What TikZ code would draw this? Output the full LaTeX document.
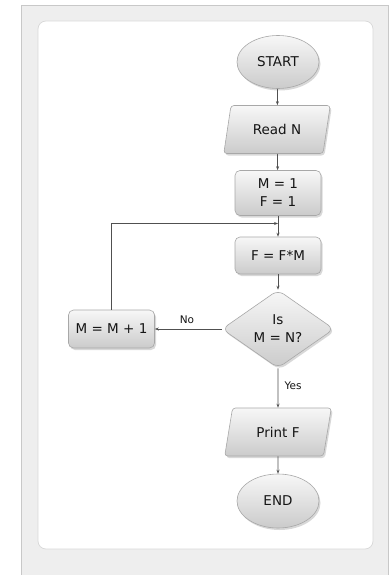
\documentclass[tikz,border=0pt]{standalone}
\usepackage{fontspec}
\setmainfont{DejaVu Sans}
\usetikzlibrary{shapes.geometric,arrows.meta,shadows}

\definecolor{panelgray}{HTML}{EEEEEE}
\definecolor{panelline}{HTML}{C8C8C8}
\definecolor{cardline}{HTML}{D8D8D8}
\definecolor{boxline}{HTML}{A8A8A8}
\definecolor{boxtop}{HTML}{F7F7F7}
\definecolor{boxbottom}{HTML}{CBCBCB}
\definecolor{wire}{HTML}{505050}
\definecolor{ink}{HTML}{151515}

\tikzset{
  chart/.style={draw=boxline, line width=0.6pt, top color=boxtop, bottom color=boxbottom,
    text=ink, font=\fontsize{13.5}{18}\selectfont, align=center, inner sep=0pt,
    drop shadow={opacity=0.3, shadow xshift=1.5pt, shadow yshift=-2pt}},
  terminal/.style={chart, ellipse, minimum width=82pt, minimum height=53pt},
  process/.style={chart, rectangle, rounded corners=5pt, minimum width=86pt},
  inout/.style={chart, trapezium, trapezium left angle=70, trapezium right angle=110,
    trapezium stretches=true, rounded corners=3pt, minimum width=107pt, minimum height=48pt},
  decision/.style={chart, diamond, rounded corners=7pt, minimum width=112pt, minimum height=78pt},
  flow/.style={draw=wire, line width=0.7pt, -{Stealth[length=4pt,width=3pt]}},
  flowlabel/.style={text=ink, font=\fontsize{10.5}{12}\selectfont}
}

\begin{document}
\begin{tikzpicture}[x=1pt, y=-1pt]
  \useasboundingbox (0,0) rectangle (391,575);

  % grey page and white card behind the chart
  \fill[panelgray] (21,5) rectangle (388,575);
  \draw[panelline, line width=0.8pt] (21,575) -- (21,5) -- (388,5) -- (388,575);
  \draw[cardline, fill=white, line width=0.7pt, rounded corners=8pt] (38,21) rectangle (373,549);

  % chart nodes
  \node[terminal] (start) at (278,62) {START};
  \node[inout] (read) at (277,129.5) {Read N};
  \node[process, minimum height=45pt] (init) at (278,193) {M = 1\\F = 1};
  \node[process, minimum height=37pt] (calc) at (278,255.5) {F = F*M};
  \node[decision] (test) at (278,329) {Is\\M = N?};
  \node[process, minimum height=38pt] (incr) at (111.5,329) {M = M + 1};
  \node[inout] (print) at (278,432) {Print F};
  \node[terminal, minimum height=54pt] (stop) at (278,501) {END};

  \coordinate (merge) at (278,223.5);

  % connectors
  \draw[flow] (start) -- (read);
  \draw[flow] (read) -- (init);
  \draw[flow] (init) -- (calc);
  \draw[flow] (calc) -- (test);
  \draw[flow] (test.west) -- node[flowlabel, above=1.5pt, pos=0.52] {No} (incr.east);
  \draw[flow] (incr.north) |- (merge);
  \draw[flow] (test.south) -- node[flowlabel, right=3pt, pos=0.45] {Yes} (print.north);
  \draw[flow] (print) -- (stop);
\end{tikzpicture}
\end{document}
